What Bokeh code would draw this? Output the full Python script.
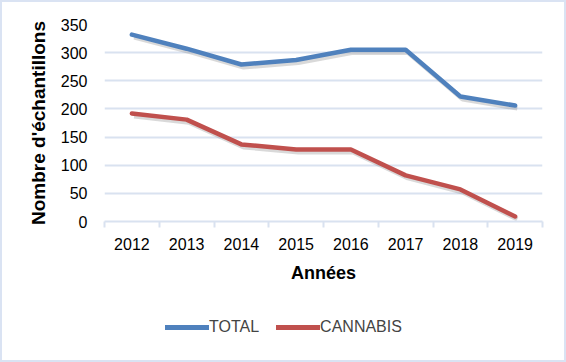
from bokeh.plotting import figure
from bokeh.models import Range1d, FixedTicker, Legend, LegendItem, ColumnDataSource
from bokeh.layouts import column
from bokeh.transform import dodge
from bokeh.embed import file_html
from bokeh.resources import INLINE

years = [2012, 2013, 2014, 2015, 2016, 2017, 2018, 2019]
year_labels = ["2012", "2013", "2014", "2015", "2016", "2017", "2018", "2019"]
total = [332, 307, 279, 287, 305, 305, 222, 206]
cannabis = [192, 181, 137, 128, 128, 82, 57, 9]
y_ticks = [0, 50, 100, 150, 200, 250, 300, 350]

FONT = "Liberation Sans"
BLUE = "#4F81BD"
RED = "#C0504D"
GRID = "#D9E2F0"

src = ColumnDataSource(dict(x=years, total=total, cannabis=cannabis))

p = figure(width=562, height=290, output_backend="svg", toolbar_location=None,
           x_range=Range1d(years[0] - 0.5, years[-1] + 0.5),
           y_range=Range1d(0, 350),
           min_border_left=102, min_border_right=22, min_border_top=22, min_border_bottom=71)

p.outline_line_color = None
p.background_fill_color = "white"
p.border_fill_color = "white"

# soft shadow under the lines
p.line(x=dodge("x", 0.04), y=dodge("total", -5), source=src, line_color="#808080",
       line_alpha=0.3, line_width=4.5)
p.line(x=dodge("x", 0.04), y=dodge("cannabis", -5), source=src, line_color="#808080",
       line_alpha=0.3, line_width=4.5)

r_total = p.line("x", "total", source=src, line_color=BLUE, line_width=4.5,
                 line_join="round", line_cap="round")
r_can = p.line("x", "cannabis", source=src, line_color=RED, line_width=4.5,
               line_join="round", line_cap="round")

# x axis
xa = p.xaxis[0]
xa.ticker = FixedTicker(ticks=years, minor_ticks=[y - 0.5 for y in years] + [years[-1] + 0.5])
xa.major_label_overrides = {y: l for y, l in zip(years, year_labels)}
xa.major_tick_out = 0
xa.major_tick_in = 0
xa.minor_tick_out = 6
xa.minor_tick_in = 0
xa.minor_tick_line_color = GRID
xa.axis_line_color = GRID
xa.axis_line_width = 2
xa.minor_tick_line_width = 2
xa.major_label_text_font = FONT
xa.major_label_text_font_size = "16px"
xa.major_label_text_color = "#000000"
xa.major_label_standoff = 10
xa.axis_label = "Années"
xa.axis_label_text_font = FONT
xa.axis_label_text_font_style = "bold"
xa.axis_label_text_font_size = "18px"
xa.axis_label_text_color = "#000000"
xa.axis_label_standoff = 10

ya = p.yaxis[0]
ya.ticker = FixedTicker(ticks=y_ticks)
ya.axis_line_color = None
ya.major_tick_line_color = None
ya.minor_tick_line_color = None
ya.major_label_text_font = FONT
ya.major_label_text_font_size = "16px"
ya.major_label_text_color = "#000000"
ya.major_label_standoff = 11
ya.axis_label = "Nombre d'échantillons"
ya.axis_label_text_font = FONT
ya.axis_label_text_font_style = "bold"
ya.axis_label_text_font_size = "19px"
ya.axis_label_text_color = "#000000"
ya.axis_label_standoff = 9

p.xgrid.grid_line_color = None
p.ygrid.grid_line_color = GRID
p.ygrid.grid_line_width = 2

# legend area (separate strip under the chart; its frame aligns with the chart frame)
lg = figure(width=562, height=68, output_backend="svg", toolbar_location=None,
            x_range=Range1d(0, 1), y_range=Range1d(0, 1),
            min_border=0, outline_line_color=None)
lg.axis.visible = False
lg.grid.visible = False
lg_total = lg.line("x", "total", source=src, line_color=BLUE, line_width=5, line_cap="round")
lg_can = lg.line("x", "cannabis", source=src, line_color=RED, line_width=5, line_cap="round")

legend = Legend(items=[LegendItem(label="TOTAL", renderers=[lg_total]),
                       LegendItem(label="CANNABIS", renderers=[lg_can])],
                orientation="horizontal", location=(61, 23),
                label_text_font=FONT, label_text_font_size="16px",
                glyph_width=44, label_standoff=0, spacing=17,
                border_line_color=None, background_fill_alpha=0,
                margin=0)
lg.add_layout(legend, "center")

layout = column(p, lg, spacing=0, styles={"border": "2px solid #DAE3F3"})

open("out.html", "w").write(file_html(layout, INLINE))
